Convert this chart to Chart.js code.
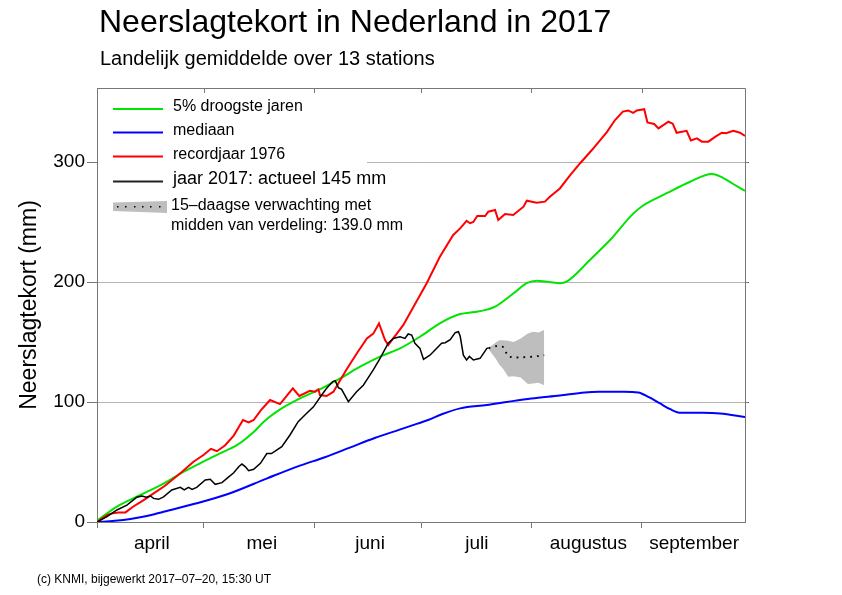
<!DOCTYPE html>
<html>
<head>
<meta charset="utf-8">
<title>Neerslagtekort in Nederland in 2017</title>
<script src="https://cdn.jsdelivr.net/npm/chart.js@4.4.1/dist/chart.umd.min.js"></script>
<style>
  html, body { margin: 0; padding: 0; background: #fff; }
  #wrap { width: 842px; height: 595px; }
</style>
</head>
<body>
<div id="wrap"><canvas id="deficitChart" width="842" height="595"></canvas></div>
<script>
// dagnummer: 0 = 1 april, 182 = 30 september
var monthStarts = [0, 30, 61, 91, 122, 153];
var monthMids = [15.4, 46.3, 76.7, 106.7, 138, 167.7];
var monthLabels = ['april', 'mei', 'juni', 'juli', 'augustus', 'september'];
var yTicks = [0, 100, 200, 300];

var titleText = 'Neerslagtekort in Nederland in 2017';
var subtitleText = 'Landelijk gemiddelde over 13 stations';
var footerText = '(c) KNMI, bijgewerkt 2017\u201307\u201320, 15:30 UT';
var legendLabels = ['5% droogste jaren', 'mediaan', 'recordjaar 1976', 'jaar 2017: actueel 145 mm',
                    '15\u2013daagse verwachting met', 'midden van verdeling: 139.0 mm'];

// 5% droogste jaren
var dryDays = [0, 5.6, 12.2, 18.7, 24.4, 30, 35.6, 39.3, 44, 47, 51, 57, 62.6, 68.3, 73.9, 79.5, 85.1, 90.7, 96.3, 102,
               106, 109.5, 111.8, 117, 120.7, 123.5, 127, 130, 132, 135.7, 137.5, 144.1, 150.6, 153.5, 160, 166.6, 172.7, 175, 178.7, 182];
var dryValues = [1, 12.8, 22.5, 32, 42, 50.5, 58.6, 64, 75, 84, 93, 103, 110.6, 119.7, 129.4, 137.8, 144.7, 154.4, 165.6, 173.3,
                 175, 177, 179.4, 190.6, 199, 201, 200, 199, 200.5, 210, 215.6, 235, 257, 264, 274, 283.6, 290, 288, 281.7, 276];

// mediaan
var medianDays = [0, 5, 9.4, 14, 18.7, 28, 37.4, 47.8, 57, 64, 71, 78, 85, 90, 93, 97, 102, 109.5, 115, 122,
                  130, 137, 141, 148, 152, 155, 158, 161, 164, 170, 175, 182];
var medianValues = [0, 1, 2.5, 5, 8.6, 15.6, 24, 36.4, 47, 54, 62, 70, 77, 82, 85, 90, 94.7, 97.5, 100, 103,
                    105.5, 108, 108.5, 108.5, 108, 104, 99, 94, 91, 91, 90.5, 87.5];

// recordjaar 1976
var recordDays = [0, 1, 2, 3, 4, 6, 8, 10, 13, 16, 19, 21.5, 24, 27, 30, 32, 33.7, 36, 38.4, 41, 42.6, 44, 46, 48.6, 51.4,
                  55, 56.8, 59.8, 61.2, 62.2, 62.6, 64.5, 66.4, 67.8, 70, 73, 75.8, 77.6, 79.2, 80.9, 81.8, 83.2, 86, 88.9,
                  92.6, 96.3, 100, 102, 103.8, 104.8, 105.7, 106.8, 109, 109.9, 111.8, 112.7, 114.6, 116.9, 119.8, 120.7,
                  123.5, 125.8, 127.2, 130, 132.9, 135.7, 139, 143.2, 145.5, 147.7, 149.2, 150.6, 151.6, 153.7, 154.6,
                  156.5, 157.7, 160.5, 161.7, 162.8, 165.6, 166.8, 168.5, 169.9, 171.7, 173.6, 175.5, 176.7, 178.7, 180.6, 182];
var recordValues = [0, 2, 4, 6, 7, 8, 8, 12.5, 18, 24, 30, 36, 42, 50, 56, 61, 59, 64, 72, 85, 83, 85, 93, 101.7, 98.3,
                    111.4, 105, 109.4, 108.6, 110.6, 105.8, 105, 108.6, 115.6, 126.7, 140.6, 153, 157, 165.5, 151.7, 147.5, 153, 164, 179.4,
                    199, 221, 239, 244.7, 251, 249, 250, 255, 255, 258.6, 260, 251.7, 256.7, 255.8, 262.8, 267.8,
                    266, 267, 271, 278, 289, 299, 310, 325, 335, 342, 343, 341, 343, 344, 333,
                    331.7, 328, 333.6, 332, 324.4, 326, 318, 319.7, 317, 317, 321, 324.4, 324, 326, 324.4, 321.7];

// jaar 2017 tot en met 20 juli
var actualDays = [0, 2.8, 5.6, 8.4, 11.2, 12.6, 13.9, 15, 15.9, 17.3, 18.7, 21, 23.4, 24.5, 25.7, 26.7, 28, 30.4, 31.8, 33.2,
                  35.1, 36.5, 38.4, 39.8, 40.7, 41.7, 42.6, 44, 45.9, 47.7, 49, 51.9, 54.2, 56.5, 58.9, 60.8, 63.1, 64.5, 66.2, 66.9,
                  67.8, 68.7, 70.6, 72.9, 74.8, 77.6, 79.5, 81.8, 83.2, 85.1, 86.5, 87.4, 88.4, 89.3, 90.7, 91.7, 93.5, 96.8, 97.8, 99.2,
                  100.6, 101.5, 102, 102.9, 103.8, 104.6, 105.7, 107.6, 109.5, 110];
var actualValues = [0, 4.4, 10, 14, 20.6, 21.7, 20.6, 21.7, 19.7, 18.9, 21, 26.7, 28.9, 26.7, 28.9, 27.2, 28.9, 35, 35.6, 31.4,
                    32.8, 36.4, 41, 46, 48.3, 46, 42.8, 43.9, 48.9, 57, 57, 62.8, 72.5, 83.6, 90.6, 96, 105.8, 111.4, 117, 117.8,
                    112, 110.6, 100.3, 108.6, 114, 126.7, 136.4, 149, 153, 154.4, 153, 156.7, 155.8, 149, 144.7, 135.6, 139, 149, 149.4, 152,
                    157.8, 158.6, 155, 139, 135, 138, 135, 136.4, 144.7, 145];

// 15-daagse verwachting
var forecastDays = [110, 112, 113, 114, 115.5, 117, 119, 121, 122.5, 124, 125.6];
var forecastUpper = [145, 149.5, 151.5, 151.5, 151, 150, 153, 157, 158.5, 158, 160];
var forecastLower = [144, 136, 131, 128, 121, 121.5, 120.5, 115, 115.5, 116, 114];
var forecastMedian = [145, 146.5, 146.5, 146, 138, 137, 137.2, 137.5, 137.8, 138.3, 139];

var FONT = '"Liberation Sans", Arial, Helvetica, sans-serif';
var GREEN = '#00e400', BLUE = '#0000ff', RED = '#ff0000', BAND = '#bebebe', AXIS = '#777777';

var toPoints = function(days, values) {
  return days.map(function(d, i) { return {x: d, y: values[i]}; });
};

// legenda, titels, kader
var decorPlugin = {
  id: 'decor',
  beforeDraw: function(chart) {
    var ctx = chart.ctx;
    ctx.save();
    ctx.fillStyle = '#fff';
    ctx.fillRect(0, 0, chart.width, chart.height);
    ctx.restore();
  },
  afterDatasetsDraw: function(chart) {
    var ctx = chart.ctx, area = chart.chartArea;
    var xs = chart.scales.x, ys = chart.scales.y;
    ctx.save();

    // legend box
    ctx.fillStyle = '#fff';
    ctx.fillRect(area.left + 1, area.top + 1, 269, 155);

    var rows = [
      {color: GREEN, y: 107, size: 16, text: legendLabels[0]},
      {color: BLUE, y: 130.5, size: 16, text: legendLabels[1]},
      {color: RED, y: 154.5, size: 16, text: legendLabels[2]},
      {color: '#222', y: 179.5, size: 18, text: legendLabels[3]}
    ];
    ctx.textBaseline = 'middle';
    ctx.textAlign = 'left';
    rows.forEach(function(r) {
      ctx.strokeStyle = r.color;
      ctx.lineWidth = 2;
      ctx.beginPath();
      ctx.moveTo(113, r.y + 2);
      ctx.lineTo(163, r.y + 2);
      ctx.stroke();
      ctx.fillStyle = '#000';
      ctx.font = r.size + 'px ' + FONT;
      ctx.fillText(r.text, 173, r.y);
    });

    // forecast swatch
    ctx.fillStyle = BAND;
    ctx.beginPath();
    ctx.moveTo(113, 202.5);
    ctx.lineTo(167, 201);
    ctx.lineTo(167, 213);
    ctx.lineTo(113, 211);
    ctx.closePath();
    ctx.fill();
    ctx.fillStyle = '#000';
    for (var dx = 117; dx < 164; dx += 8.3) {
      ctx.fillRect(Math.round(dx), 206, 1.5, 1.5);
    }
    ctx.font = '16px ' + FONT;
    ctx.fillText(legendLabels[4], 171, 206);
    ctx.fillText(legendLabels[5], 171, 226);

    // frame top + right with inward/outward ticks
    ctx.strokeStyle = AXIS;
    ctx.lineWidth = 1;
    ctx.beginPath();
    ctx.moveTo(area.left, area.top + 0.5);
    ctx.lineTo(area.right + 0.5, area.top + 0.5);
    ctx.lineTo(area.right + 0.5, area.bottom);
    monthStarts.forEach(function(d) {
      var px = Math.round(xs.getPixelForValue(d)) + 0.5;
      ctx.moveTo(px, area.top);
      ctx.lineTo(px, area.top + 5);
    });
    yTicks.slice(1).forEach(function(v) {
      var py = Math.round(ys.getPixelForValue(v)) + 0.5;
      ctx.moveTo(area.right, py);
      ctx.lineTo(area.right + 4, py);
    });
    ctx.stroke();
    ctx.restore();
  },
  afterDraw: function(chart) {
    var ctx = chart.ctx;
    ctx.save();
    ctx.fillStyle = '#000';
    ctx.textAlign = 'left';
    ctx.textBaseline = 'alphabetic';
    ctx.font = '32px ' + FONT;
    ctx.fillText(titleText, 99, 32);
    ctx.font = '20px ' + FONT;
    ctx.fillText(subtitleText, 100, 65);
    ctx.font = '12px ' + FONT;
    ctx.fillText(footerText, 37, 583);
    ctx.restore();
  }
};

Chart.defaults.font.family = FONT;

var ctx = document.getElementById('deficitChart').getContext('2d');
var chart = new Chart(ctx, {
  type: 'line',
  data: {
    datasets: [
      {label: legendLabels[3], data: toPoints(actualDays, actualValues), borderColor: '#000', borderWidth: 1.5,
       pointRadius: 0, fill: false, tension: 0},
      {label: 'verwachting', data: toPoints(forecastDays, forecastMedian), borderColor: '#000', borderWidth: 1.8,
       borderDash: [1.8, 5], pointRadius: 0, fill: false, tension: 0},
      {label: legendLabels[2], data: toPoints(recordDays, recordValues), borderColor: RED, borderWidth: 2,
       pointRadius: 0, fill: false, tension: 0},
      {label: legendLabels[0], data: toPoints(dryDays, dryValues), borderColor: GREEN, borderWidth: 2,
       pointRadius: 0, fill: false, cubicInterpolationMode: 'monotone'},
      {label: legendLabels[1], data: toPoints(medianDays, medianValues), borderColor: BLUE, borderWidth: 2,
       pointRadius: 0, fill: false, cubicInterpolationMode: 'monotone'},
      {label: 'bovengrens', data: toPoints(forecastDays, forecastUpper), borderColor: BAND, borderWidth: 0,
       pointRadius: 0, fill: false, tension: 0},
      {label: 'ondergrens', data: toPoints(forecastDays, forecastLower), borderColor: BAND, borderWidth: 0,
       backgroundColor: BAND, pointRadius: 0, fill: '-1', tension: 0}
    ]
  },
  options: {
    responsive: false,
    animation: false,
    devicePixelRatio: 1,
    events: [],
    layout: {padding: {left: 0, right: 97, top: 88, bottom: 40}},
    plugins: {
      legend: {display: false},
      tooltip: {enabled: false},
      title: {display: false}
    },
    scales: {
      x: {
        type: 'linear', position: 'bottom', min: 0, max: 182,
        afterBuildTicks: function(axis) {
          axis.ticks = monthStarts.map(function(v) { return {value: v}; });
        },
        ticks: {display: false},
        grid: {drawOnChartArea: false, drawTicks: true, tickLength: 6, color: AXIS},
        border: {display: true, color: AXIS, width: 1},
        afterFit: function(axis) { axis.height = 6; }
      },
      x2: {
        type: 'linear', position: 'bottom', min: 0, max: 182,
        afterBuildTicks: function(axis) {
          axis.ticks = monthMids.map(function(v) { return {value: v}; });
        },
        ticks: {
          padding: 4, color: '#000', autoSkip: false, maxRotation: 0,
          font: {family: FONT, size: 19},
          callback: function(value, index) { return monthLabels[index]; }
        },
        grid: {display: false, drawTicks: false},
        border: {display: false},
        afterFit: function(axis) { axis.height = 27; }
      },
      y: {
        type: 'linear', min: 0, max: 361.7,
        afterBuildTicks: function(axis) {
          axis.ticks = yTicks.map(function(v) { return {value: v}; });
        },
        ticks: {padding: 2, color: '#000', font: {family: FONT, size: 19}},
        grid: {
          color: function(c) { return c.tick && c.tick.value === 0 ? 'rgba(0,0,0,0)' : '#b4b4b4'; },
          tickColor: AXIS, tickLength: 10
        },
        border: {display: true, color: AXIS, width: 1},
        title: {
          display: true, text: 'Neerslagtekort (mm)', color: '#000',
          font: {family: FONT, size: 23}, padding: {top: 16, bottom: 0}
        },
        afterFit: function(axis) { axis.width = 97; }
      }
    }
  },
  plugins: [decorPlugin]
});
</script>
</body>
</html>
